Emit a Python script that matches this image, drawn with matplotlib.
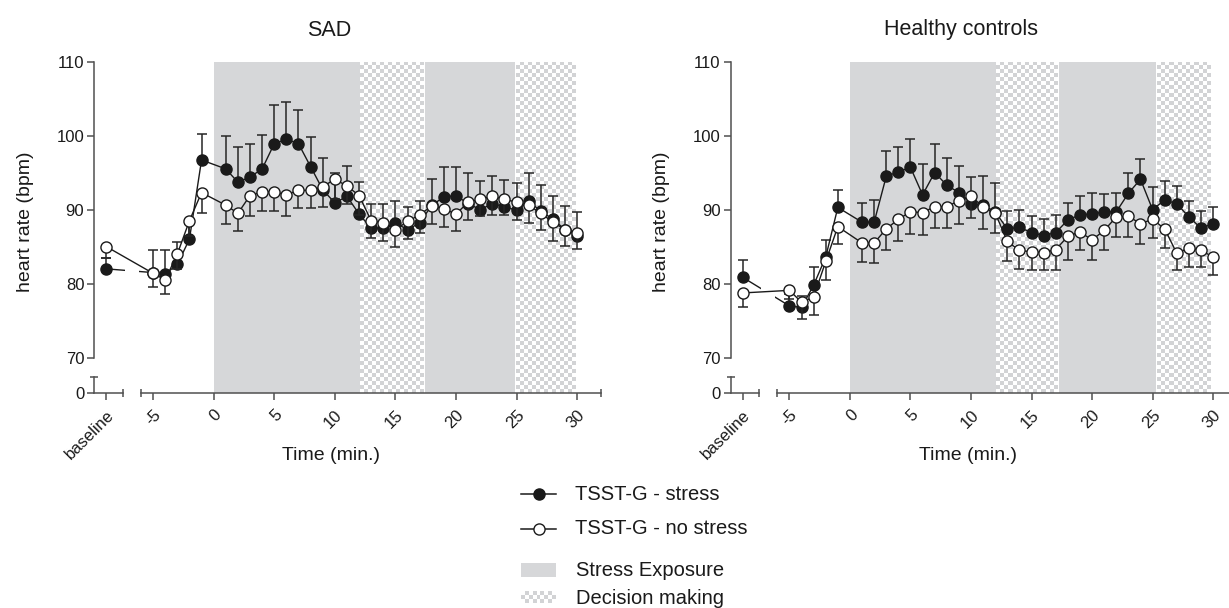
import numpy as np
import matplotlib
matplotlib.use("Agg")
import matplotlib.pyplot as plt
from matplotlib.colors import ListedColormap
from matplotlib.patches import Rectangle

plt.rcParams["font.family"] = ["Liberation Sans", "DejaVu Sans"]

W, H = 1229, 608

# ---- data -------------------------------------------------------------
time_min = [-5, -4, -3, -2, -1, 1, 2, 3, 4, 5, 6, 7, 8, 9, 10,
            11, 12, 13, 14, 15, 16, 17, 18, 19, 20,
            21, 22, 23, 24, 25, 26, 27, 28, 29, 30]
x_ticks = [-5, 0, 5, 10, 15, 20, 25, 30]
x_tick_labels = ["-5", "0", "5", "10", "15", "20", "25", "30"]
y_ticks = [70, 80, 90, 100, 110]

# SAD group
sad_base_stress, sad_base_stress_err = 82.0, 1.5
sad_base_nostress, sad_base_nostress_err = 85.0, 1.5
sad_stress = [81.5, 81.3, 82.6, 86.0, 96.7,
              95.5, 93.7, 94.4, 95.5, 98.9, 99.5, 98.9, 95.8, 92.7, 90.9,
              91.8, 89.4, 87.5, 87.5, 88.2, 87.3, 88.2, 90.6, 91.7, 91.9,
              90.8, 90.0, 90.8, 90.4, 89.9, 91.1, 89.8, 88.7, 87.3, 86.5]
sad_stress_err = [3.1, 3.2, 3.0, 2.0, 3.5,
                  4.5, 4.8, 4.5, 4.6, 5.2, 5.0, 4.5, 4.0, 4.3, 4.1,
                  4.1, 4.3, 3.2, 3.3, 2.9, 3.0, 2.9, 3.5, 4.1, 3.9,
                  4.2, 3.8, 3.8, 3.6, 3.7, 3.9, 3.5, 3.2, 3.2, 3.2]
sad_nostress = [81.4, 80.5, 84.0, 88.5, 92.3,
                90.6, 89.5, 91.9, 92.4, 92.4, 92.0, 92.6, 92.6, 93.1, 94.1,
                93.2, 91.9, 88.5, 88.2, 87.3, 88.4, 89.3, 90.5, 90.1, 89.4,
                91.0, 91.4, 91.8, 91.4, 91.0, 90.6, 89.5, 88.3, 87.3, 86.9]
sad_nostress_err = [1.8, 1.9, 2.0, 2.0, 2.7,
                    2.5, 2.4, 2.7, 2.6, 2.6, 2.8, 2.4, 2.4, 2.8, 2.6,
                    2.5, 2.6, 2.3, 2.4, 2.3, 2.4, 2.5, 2.4, 2.4, 2.3,
                    2.4, 2.2, 2.5, 2.1, 2.4, 2.4, 2.3, 2.5, 2.2, 2.2]
sad_exposure = [(0, 12.1), (17.45, 24.85)]
sad_decision = [(12.1, 17.3), (24.95, 29.9)]

# Healthy controls
hc_base_stress, hc_base_stress_err = 80.85, 2.35
hc_base_nostress, hc_base_nostress_err = 78.75, 1.95
hc_stress = [77.0, 76.8, 79.8, 83.6, 90.3,
             88.3, 88.3, 94.5, 95.1, 95.7, 92.0, 95.0, 93.3, 92.3, 90.8,
             90.6, 89.7, 87.4, 87.6, 86.9, 86.5, 86.9, 88.6, 89.3, 89.4,
             89.7, 89.7, 92.2, 94.1, 90.0, 91.3, 90.8, 89.0, 87.5, 88.1]
hc_stress_err = [1.6, 1.5, 2.4, 2.3, 2.4,
                 2.6, 3.0, 3.4, 3.4, 3.9, 4.1, 3.8, 3.7, 3.6, 3.6,
                 4.0, 3.9, 2.4, 2.3, 2.3, 2.2, 2.4, 2.3, 2.6, 2.9,
                 2.4, 2.6, 2.7, 2.75, 3.1, 2.6, 2.4, 2.2, 2.3, 2.2]
hc_nostress = [79.1, 77.5, 78.2, 83.0, 87.7,
               85.5, 85.5, 87.4, 88.7, 89.7, 89.6, 90.4, 90.4, 91.2, 91.9,
               90.3, 89.55, 85.7, 84.5, 84.3, 84.2, 84.6, 86.4, 87.0, 85.9,
               87.2, 89.0, 89.1, 88.1, 88.7, 87.4, 84.1, 84.8, 84.5, 83.6]
hc_nostress_err = [1.2, 2.3, 2.4, 2.5, 2.4,
                   2.6, 2.7, 2.9, 2.9, 3.0, 3.0, 2.9, 2.9, 3.1, 3.0,
                   2.9, 2.75, 2.6, 2.5, 2.4, 2.4, 2.7, 3.2, 2.5, 2.7,
                   2.7, 2.7, 2.8, 2.7, 2.5, 2.6, 2.3, 2.5, 2.3, 2.4]
hc_exposure = [(0, 12.1), (17.25, 25.3)]
hc_decision = [(12.1, 17.2), (25.4, 29.85)]

# ---- styling ------------------------------------------------------------
BASELINE_X = -8.85
XLIM = (-9.85, 30.8)
YLIM = (65.2, 110)
AXIS_END = 32
GAP = (-7.35, -6.15)
AX_COL = "#505050"
INK = "#1a1a1a"
GRAY = "#d6d7d9"
CHECK_CMAP = ListedColormap(["#ffffff", "#d2d3d5"])
MS = 8.0


def px_to_fig(x, y):
    return x / W, 1 - y / H


def checker(ax, x0, x1, y0, y1, cell=4.0, **kw):
    p0 = ax.transData.transform((x0, y0))
    p1 = ax.transData.transform((x1, y1))
    nx = max(1, int(round(abs(p1[0] - p0[0]) / cell)))
    ny = max(1, int(round(abs(p1[1] - p0[1]) / cell)))
    grid = np.add.outer(np.arange(ny), np.arange(nx)) % 2
    ax.imshow(grid, extent=(x0, x1, y0, y1), origin="lower", cmap=CHECK_CMAP,
              aspect="auto", interpolation="nearest", **kw)


def series(ax, base, base_err, vals, errs, filled, z):
    t = np.array(time_min, dtype=float)
    vals = np.array(vals)
    errs = np.array(errs)
    zeros = np.zeros_like(errs)
    yerr = [zeros, errs] if filled else [errs, zeros]
    byerr = [[0], [base_err]] if filled else [[base_err], [0]]
    eb = dict(fmt="none", ecolor="#262626", elinewidth=1.1, capsize=3.5,
              capthick=1.1, zorder=z)
    ax.errorbar(t, vals, yerr=yerr, **eb)
    ax.errorbar([BASELINE_X], [base], yerr=byerr, **eb)
    ax.plot([BASELINE_X, t[0]], [base, vals[0]], color=INK, lw=1.0, zorder=z + 0.1)
    ax.plot(t, vals, color=INK, lw=1.0, zorder=z + 0.1)
    face = INK if filled else "white"
    ax.plot(np.r_[BASELINE_X, t], np.r_[base, vals], ls="none", marker="o",
            ms=MS, mfc=face, mec=INK, mew=1.0, zorder=z + 0.2)


def draw_panel(ax, base_s, base_s_err, base_n, base_n_err,
               stress, stress_err, nostress, nostress_err, exposure, decision):
    ax.set_xlim(*XLIM)
    ax.set_ylim(*YLIM)
    ax.set_autoscale_on(False)

    for x0, x1 in exposure:
        ax.axvspan(x0, x1, color=GRAY, lw=0, zorder=0)
    for x0, x1 in decision:
        checker(ax, x0, x1, YLIM[0], YLIM[1], zorder=0)

    series(ax, base_s, base_s_err, stress, stress_err, True, 2)
    series(ax, base_n, base_n_err, nostress, nostress_err, False, 5)

    # white gap where the time axis is broken
    ax.add_patch(Rectangle((GAP[0], 67.6), GAP[1] - GAP[0], YLIM[1] - 67.6,
                           facecolor="white", edgecolor="none", zorder=4.9))

    # broken axes
    for s in ("top", "right"):
        ax.spines[s].set_visible(False)
    for s in ("left", "bottom"):
        ax.spines[s].set_color(AX_COL)
        ax.spines[s].set_linewidth(1.1)
    ax.spines["left"].set_bounds(70, 110)
    ax.spines["bottom"].set_bounds(-6, AXIS_END)

    xt = ax.get_xaxis_transform()
    yt = ax.get_yaxis_transform()
    line_kw = dict(color=AX_COL, lw=1.1, clip_on=False, zorder=3)
    ax.plot([XLIM[0], -7.5], [0, 0], transform=xt, **line_kw)
    ax.plot([-7.5, -6, AXIS_END], [0, 0, 0], transform=xt, ls="none",
            marker="|", ms=6, mew=1.1, mec=AX_COL, clip_on=False)
    ax.plot([0, 0], [YLIM[0], 67.35], transform=yt, **line_kw)
    ax.plot([0], [67.35], transform=yt, ls="none", marker="_", ms=6,
            mew=1.1, mec=AX_COL, clip_on=False)

    ax.set_xticks([BASELINE_X] + x_ticks)
    ax.set_xticklabels(["baseline"] + x_tick_labels, rotation=45, ha="right",
                       va="top", rotation_mode="anchor")
    ax.set_yticks([YLIM[0]] + y_ticks)
    ax.set_yticklabels(["0"] + [str(v) for v in y_ticks])
    ax.tick_params(axis="both", direction="out", length=5.2, width=1.1,
                   color=AX_COL, labelsize=12, labelcolor=INK)
    ax.tick_params(axis="x", pad=5)
    ax.tick_params(axis="y", pad=2)


fig = plt.figure(figsize=(W / 100, H / 100), dpi=100)

ax_sad = fig.add_axes([94.3 / W, 1 - 393.3 / H, (586.9 - 94.3) / W, (393.3 - 61.5) / H])
ax_hc = fig.add_axes([730.7 / W, 1 - 393.3 / H, (1222.8 - 730.7) / W, (393.3 - 61.5) / H])

draw_panel(ax_sad, sad_base_stress, sad_base_stress_err, sad_base_nostress,
           sad_base_nostress_err, sad_stress, sad_stress_err, sad_nostress,
           sad_nostress_err, sad_exposure, sad_decision)
draw_panel(ax_hc, hc_base_stress, hc_base_stress_err, hc_base_nostress,
           hc_base_nostress_err, hc_stress, hc_stress_err, hc_nostress,
           hc_nostress_err, hc_exposure, hc_decision)

# titles and axis labels
for cx, title in [(329, "SAD"), (961, "Healthy controls")]:
    fig.text(*px_to_fig(cx, 30), title, ha="center", va="center",
             fontsize=15.5, color=INK)
for cx in (331, 968):
    fig.text(*px_to_fig(cx, 455), "Time (min.)", ha="center", va="center",
             fontsize=14, color=INK)
for cx in (25, 662):
    fig.text(*px_to_fig(cx, 222), "heart rate (bpm)", ha="center", va="center",
             rotation=90, fontsize=14, color=INK)

# legend drawn in pixel space
lg = fig.add_axes([0, 0, 1, 1])
lg.set_xlim(0, W)
lg.set_ylim(H, 0)
lg.axis("off")
lg.patch.set_visible(False)
lg.set_autoscale_on(False)

for y, face, label in [(494, INK, "TSST-G - stress"), (529, "white", "TSST-G - no stress")]:
    lg.plot([521, 556], [y, y], color=INK, lw=1.1)
    lg.plot([538.5], [y], ls="none", marker="o", ms=MS, mfc=face, mec=INK, mew=1.0)
    lg.text(575, y, label, ha="left", va="center", fontsize=14.5, color=INK)

lg.add_patch(Rectangle((521, 563), 35, 14, facecolor=GRAY, edgecolor="none"))
lg.text(576, 570, "Stress Exposure", ha="left", va="center", fontsize=14.5, color=INK)
lg.imshow(np.add.outer(np.arange(3), np.arange(9)) % 2, extent=(521, 556, 603, 591),
          cmap=CHECK_CMAP, aspect="auto", interpolation="nearest")
lg.text(576, 599, "Decision making", ha="left", va="center", fontsize=14.5, color=INK)

fig.savefig("out.png", dpi=100)
